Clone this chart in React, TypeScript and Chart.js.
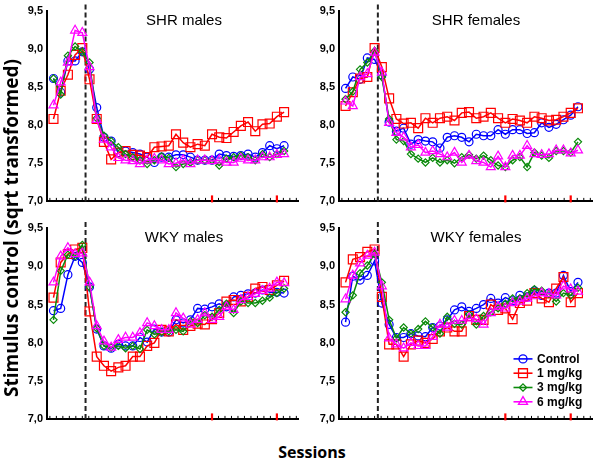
import React, { useEffect, useRef } from 'react';
import { Chart, registerables } from 'chart.js';

Chart.register(...registerables);

// ---- data ----
const sessions = [1, 2, 3, 4, 5, 6, 7, 8, 9, 10, 11, 12, 13, 14, 15, 16, 17, 18, 19, 20, 21, 22, 23, 24, 25, 26, 27, 28, 29, 30, 31, 32, 33];
const seriesLabels = ['Control', '1 mg/kg', '3 mg/kg', '6 mg/kg'];
const yTickValues = [7.0, 7.5, 8.0, 8.5, 9.0, 9.5];
const markedSessions = [23, 32];
const drugStartAfter = 5.45;

const shrMalesControl = [8.61, 8.43, 8.84, 8.84, 8.96, 8.73, 8.23, 7.84, 7.79, 7.64, 7.66, 7.64, 7.62, 7.58, 7.51, 7.58, 7.58, 7.61, 7.61, 7.58, 7.54, 7.54, 7.54, 7.62, 7.6, 7.59, 7.6, 7.62, 7.58, 7.64, 7.73, 7.69, 7.73];
const shrMales1 = [8.08, 8.45, 8.66, 8.92, 9.01, 8.6, 8.08, 7.78, 7.55, 7.64, 7.66, 7.61, 7.6, 7.58, 7.71, 7.72, 7.73, 7.88, 7.77, 7.71, 7.75, 7.73, 7.88, 7.84, 7.83, 7.91, 7.99, 8.04, 7.92, 8.01, 8.02, 8.11, 8.17];
const shrMales3 = [8.61, 8.4, 8.91, 9.03, 8.96, 8.82, 8.09, 7.86, 7.79, 7.71, 7.62, 7.58, 7.54, 7.49, 7.54, 7.59, 7.57, 7.45, 7.49, 7.51, 7.54, 7.54, 7.54, 7.47, 7.56, 7.58, 7.6, 7.58, 7.54, 7.62, 7.58, 7.62, 7.66];
const shrMales6 = [8.26, 8.56, 8.82, 9.24, 9.21, 8.76, 8.07, 7.81, 7.71, 7.57, 7.54, 7.53, 7.49, 7.54, 7.56, 7.54, 7.49, 7.5, 7.54, 7.49, 7.54, 7.54, 7.53, 7.54, 7.51, 7.51, 7.56, 7.54, 7.54, 7.58, 7.58, 7.61, 7.62];

const shrFemalesControl = [8.48, 8.63, 8.6, 8.88, 8.86, 8.66, 8.04, 7.92, 7.96, 7.75, 7.81, 7.79, 7.78, 7.7, 7.84, 7.86, 7.84, 7.78, 7.88, 7.86, 7.86, 7.94, 7.88, 7.94, 7.94, 7.89, 7.9, 8.03, 7.97, 8.01, 8.07, 8.13, 8.24];
const shrFemales1 = [8.25, 8.43, 8.61, 8.63, 9.01, 8.76, 8.35, 8.08, 8.02, 8.03, 7.96, 8.09, 8.03, 8.09, 8.11, 8.06, 8.16, 8.17, 8.09, 8.11, 8.16, 8.09, 8.03, 8.08, 8.06, 8.03, 8.11, 8.09, 8.06, 8.07, 8.11, 8.16, 8.22];
const shrFemales3 = [8.34, 8.44, 8.73, 8.82, 8.97, 8.63, 8.08, 7.81, 7.79, 7.62, 7.56, 7.51, 7.57, 7.51, 7.54, 7.5, 7.58, 7.61, 7.56, 7.6, 7.54, 7.47, 7.45, 7.54, 7.58, 7.45, 7.64, 7.6, 7.57, 7.66, 7.66, 7.64, 7.78];
const shrFemales6 = [8.31, 8.25, 8.63, 8.67, 8.95, 8.69, 8.03, 7.9, 7.84, 7.71, 7.74, 7.64, 7.66, 7.62, 7.58, 7.64, 7.51, 7.6, 7.53, 7.51, 7.45, 7.59, 7.45, 7.6, 7.6, 7.73, 7.62, 7.61, 7.62, 7.67, 7.67, 7.63, 7.67];

const wkyMalesControl = [8.42, 8.45, 8.89, 9.13, 9.05, 8.73, 8.18, 7.96, 7.93, 7.98, 7.96, 7.96, 8.07, 8.01, 8.18, 8.14, 8.14, 8.3, 8.26, 8.3, 8.45, 8.44, 8.47, 8.51, 8.47, 8.6, 8.62, 8.64, 8.65, 8.69, 8.66, 8.66, 8.65];
const wkyMales1 = [8.59, 9.05, 9.16, 9.22, 9.24, 8.41, 7.82, 7.7, 7.63, 7.68, 7.7, 7.82, 7.82, 7.96, 8.0, 8.17, 8.15, 8.24, 8.17, 8.22, 8.25, 8.24, 8.31, 8.39, 8.54, 8.56, 8.54, 8.6, 8.71, 8.73, 8.69, 8.75, 8.81];
const wkyMales3 = [8.3, 8.94, 9.15, 9.13, 9.28, 8.73, 8.19, 7.96, 7.94, 7.96, 7.93, 7.96, 7.92, 8.17, 8.11, 8.14, 8.15, 8.17, 8.15, 8.28, 8.26, 8.36, 8.34, 8.43, 8.51, 8.39, 8.54, 8.52, 8.52, 8.55, 8.59, 8.65, 8.71];
const wkyMales6 = [8.79, 9.13, 9.24, 9.16, 9.17, 8.79, 8.22, 8.02, 7.94, 8.04, 8.07, 8.07, 8.13, 8.26, 8.22, 8.17, 8.17, 8.39, 8.32, 8.24, 8.3, 8.39, 8.3, 8.34, 8.47, 8.43, 8.56, 8.6, 8.64, 8.68, 8.71, 8.79, 8.78];

const wkyFemalesControl = [8.27, 8.87, 8.82, 8.88, 9.07, 8.52, 8.24, 8.07, 8.07, 8.12, 8.09, 8.08, 8.2, 8.22, 8.3, 8.43, 8.47, 8.41, 8.45, 8.5, 8.58, 8.52, 8.59, 8.55, 8.62, 8.6, 8.68, 8.62, 8.65, 8.65, 8.88, 8.67, 8.79];
const wkyFemales1 = [8.79, 9.09, 9.12, 9.19, 9.22, 8.6, 7.98, 7.98, 7.82, 7.98, 8.03, 8.0, 8.05, 8.15, 8.2, 8.15, 8.15, 8.35, 8.3, 8.3, 8.5, 8.43, 8.45, 8.31, 8.52, 8.55, 8.65, 8.58, 8.53, 8.71, 8.86, 8.53, 8.65];
const wkyFemales3 = [8.4, 8.62, 8.91, 9.01, 9.16, 8.79, 8.3, 8.06, 8.2, 8.12, 8.18, 8.28, 8.2, 8.12, 8.34, 8.25, 8.24, 8.37, 8.24, 8.35, 8.4, 8.45, 8.51, 8.58, 8.58, 8.65, 8.7, 8.68, 8.64, 8.54, 8.65, 8.62, 8.72];
const wkyFemales6 = [8.57, 8.88, 9.04, 9.14, 9.18, 8.74, 8.06, 7.98, 7.93, 8.0, 7.96, 7.96, 8.08, 8.24, 8.2, 8.29, 8.29, 8.32, 8.31, 8.24, 8.39, 8.47, 8.45, 8.52, 8.54, 8.58, 8.61, 8.65, 8.64, 8.62, 8.74, 8.7, 8.67];

// ---- styles ----
const seriesStyles = [
  { color: '#0000ff', pointStyle: 'circle', radius: 4, order: 4 },
  { color: '#ff0000', pointStyle: 'rect', radius: 6.3, order: 3 },
  { color: '#0a8a0a', pointStyle: 'rectRot', radius: 3.6, order: 2 },
  { color: '#ff00ff', pointStyle: 'triangle', radius: 5.2, order: 1 },
];

const FONT = '"Liberation Sans", Arial, sans-serif';
const TITLE_FONT = '"Open Sans", Lato, sans-serif';

function drawMarker(ctx: CanvasRenderingContext2D, style: string, x: number, y: number, r: number) {
  ctx.beginPath();
  if (style === 'circle') {
    ctx.arc(x, y, r, 0, Math.PI * 2);
  } else if (style === 'rect') {
    const s = r * Math.SQRT1_2;
    ctx.rect(x - s, y - s, 2 * s, 2 * s);
  } else if (style === 'rectRot') {
    ctx.moveTo(x, y - r);
    ctx.lineTo(x + r, y);
    ctx.lineTo(x, y + r);
    ctx.lineTo(x - r, y);
    ctx.closePath();
  } else {
    for (let k = 0; k < 3; k++) {
      const a = (k * 2 * Math.PI) / 3;
      const px = x + Math.sin(a) * r;
      const py = y - Math.cos(a) * r;
      if (k === 0) ctx.moveTo(px, py);
      else ctx.lineTo(px, py);
    }
    ctx.closePath();
  }
  ctx.stroke();
}

const decorPlugin = {
  id: 'panelDecor',
  beforeDatasetsDraw(chart: any) {
    const { ctx, chartArea } = chart;
    const xs = chart.scales.x;
    const px = xs.getPixelForValue(drugStartAfter);
    ctx.save();
    ctx.strokeStyle = '#222';
    ctx.lineWidth = 2;
    ctx.setLineDash([5, 3]);
    ctx.beginPath();
    ctx.moveTo(px, chartArea.top - 6);
    ctx.lineTo(px, chartArea.bottom);
    ctx.stroke();
    ctx.restore();
  },
  afterDraw(chart: any, _args: any, opts: any) {
    const { ctx, chartArea } = chart;
    const xs = chart.scales.x;
    ctx.save();
    // minor ticks along x axis
    const step = 0.9;
    let start = markedSessions[0];
    while (start - step >= xs.min) start -= step;
    for (let v = start; v <= xs.max + 1e-6; v += step) {
      const isRed = markedSessions.some((m) => Math.abs(m - v) < 0.01);
      const px = xs.getPixelForValue(v);
      ctx.beginPath();
      if (isRed) {
        ctx.strokeStyle = '#ff0000';
        ctx.lineWidth = 2.2;
        ctx.moveTo(px, chartArea.bottom + 1);
        ctx.lineTo(px, chartArea.bottom - 6);
      } else {
        ctx.strokeStyle = '#000';
        ctx.lineWidth = 1;
        ctx.moveTo(px, chartArea.bottom);
        ctx.lineTo(px, chartArea.bottom - 3.5);
      }
      ctx.stroke();
    }
    // title
    ctx.fillStyle = '#000';
    ctx.font = `15px ${FONT}`;
    ctx.textAlign = 'center';
    ctx.textBaseline = 'middle';
    ctx.fillText(opts.title, chartArea.left + 137, chartArea.top + 10);
    // legend
    if (opts.legend) {
      chart.data.datasets.forEach((ds: any, i: number) => {
        const y = chartArea.bottom - 60.5 + i * 14.3;
        const x0 = chartArea.right - 79;
        const x1 = chartArea.right - 60;
        ctx.strokeStyle = ds.borderColor;
        ctx.lineWidth = 1.6;
        ctx.beginPath();
        ctx.moveTo(x0, y);
        ctx.lineTo(x1, y);
        ctx.stroke();
        ctx.lineWidth = 1.3;
        drawMarker(ctx, ds.pointStyle, (x0 + x1) / 2, y, ds.pointRadius);
        ctx.fillStyle = '#000';
        ctx.font = `bold 12px ${FONT}`;
        ctx.textAlign = 'left';
        ctx.textBaseline = 'middle';
        ctx.fillText(ds.label, chartArea.right - 55.5, y + 0.5);
      });
    }
    ctx.restore();
  },
};

type PanelProps = {
  title: string;
  series: number[][];
  left: number;
  top: number;
  width: number;
  height: number;
  padTop: number;
  padBottom: number;
  legend?: boolean;
};

function Panel(props: PanelProps) {
  const ref = useRef<HTMLCanvasElement | null>(null);
  useEffect(() => {
    if (!ref.current) return;
    const chart = new Chart(ref.current, {
      type: 'line',
      data: {
        datasets: props.series.map((vals, i) => ({
          label: seriesLabels[i],
          data: sessions.map((s, j) => ({ x: s, y: vals[j] })),
          borderColor: seriesStyles[i].color,
          backgroundColor: 'rgba(0,0,0,0)',
          pointBorderColor: seriesStyles[i].color,
          pointBackgroundColor: 'rgba(0,0,0,0)',
          pointStyle: seriesStyles[i].pointStyle as any,
          pointRadius: seriesStyles[i].radius,
          pointBorderWidth: 1.2,
          borderWidth: 1.5,
          tension: 0,
          order: seriesStyles[i].order,
        })),
      },
      options: {
        animation: false,
        responsive: false,
        maintainAspectRatio: false,
        events: [],
        layout: { padding: { top: props.padTop, bottom: props.padBottom, left: 0, right: 3 } },
        plugins: {
          legend: { display: false },
          tooltip: { enabled: false },
          panelDecor: { title: props.title, legend: !!props.legend },
        } as any,
        scales: {
          x: {
            type: 'linear',
            min: 0.1,
            max: 35,
            afterFit: (s: any) => {
              s.height = 0;
            },
            ticks: { display: false },
            grid: { display: false },
            border: { color: '#000', width: 2 },
          },
          y: {
            min: 7,
            max: 9.5,
            afterFit: (s: any) => {
              s.width = 33;
            },
            afterBuildTicks: (s: any) => {
              s.ticks = yTickValues.map((v) => ({ value: v }));
            },
            ticks: {
              color: '#000',
              padding: 4,
              font: { family: FONT, size: 11, weight: 'bold' },
              callback: (v: any) => Number(v).toFixed(1).replace('.', ','),
            },
            grid: { display: false, drawTicks: false },
            border: { color: '#000', width: 2 },
          },
        },
      },
      plugins: [decorPlugin as any],
    });
    return () => chart.destroy();
  }, []);
  return (
    <canvas
      ref={ref}
      width={props.width}
      height={props.height}
      style={{ position: 'absolute', left: props.left, top: props.top, width: props.width, height: props.height }}
    />
  );
}

export default function App() {
  return (
    <div style={{ position: 'absolute', left: 0, top: 0, width: 600, height: 461, background: '#fff', overflow: 'hidden' }}>
      <Panel title="SHR males" series={[shrMalesControl, shrMales1, shrMales3, shrMales6]} left={14} top={0} width={292} height={212} padTop={7} padBottom={10} />
      <Panel title="SHR females" series={[shrFemalesControl, shrFemales1, shrFemales3, shrFemales6]} left={306} top={0} width={294} height={212} padTop={7} padBottom={10} />
      <Panel title="WKY males" series={[wkyMalesControl, wkyMales1, wkyMales3, wkyMales6]} left={14} top={214} width={292} height={216} padTop={14} padBottom={7} />
      <Panel title="WKY females" series={[wkyFemalesControl, wkyFemales1, wkyFemales3, wkyFemales6]} left={306} top={214} width={294} height={216} padTop={14} padBottom={7} legend />
      <div
        style={{
          position: 'absolute',
          left: 11 - 220,
          top: 228 - 14,
          width: 440,
          height: 28,
          lineHeight: '28px',
          textAlign: 'center',
          transform: 'rotate(-90deg)',
          fontFamily: TITLE_FONT,
          fontWeight: 'bold',
          fontSize: 19,
          color: '#000',
          whiteSpace: 'nowrap',
        }}
      >
        Stimulus control (sqrt transformed)
      </div>
      <div
        style={{
          position: 'absolute',
          left: 312 - 100,
          top: 452 - 12,
          width: 200,
          height: 24,
          lineHeight: '24px',
          textAlign: 'center',
          fontFamily: TITLE_FONT,
          fontWeight: 'bold',
          fontSize: 16,
          color: '#000',
        }}
      >
        Sessions
      </div>
    </div>
  );
}
